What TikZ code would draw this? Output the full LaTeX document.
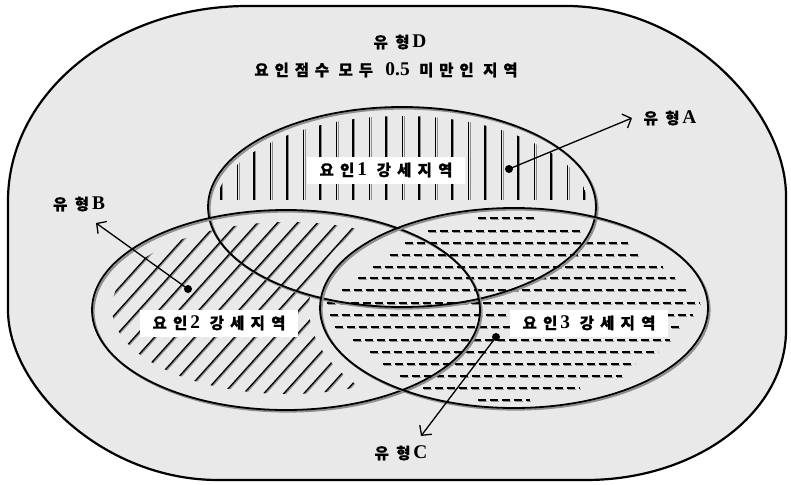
\documentclass[tikz,border=0pt]{standalone}
\usepackage{fontspec}
\setmainfont{Noto Sans CJK KR}
\newfontfamily\latfont{Liberation Serif}[Scale=1.25]
\newcommand\latn[1]{\kern3pt{\latfont\bfseries #1}}
\usetikzlibrary{arrows.meta}
\definecolor{paper}{HTML}{E9E9E9}
\definecolor{rimgray}{HTML}{8E8E8E}

\tikzset{
  tag/.style={font=\fontsize{15.5}{17}\selectfont\bfseries\addfontfeature{LetterSpace=48,FakeBold=0.8}, inner sep=1pt},
  note/.style={font=\fontsize{15.5}{17}\selectfont\bfseries\addfontfeature{LetterSpace=38,FakeBold=0.8}, inner sep=1pt},
  zonebox/.style={fill=white, minimum width=158pt, minimum height=27pt, inner sep=0pt,
    font=\fontsize{15.5}{17}\selectfont\bfseries\addfontfeature{LetterSpace=40,FakeBold=0.8}},
  dot/.style={circle, fill=black, minimum size=8pt, inner sep=0pt},
  pointer/.style={-{Straight Barb[length=7pt,width=15pt]}, line width=1.3pt},
  hatch/.style={line width=1.3pt},
  hatchshade/.style={line width=1.3pt, rimgray},
  dashline/.style={line width=1.3pt, dash pattern=on 8pt off 4pt},
  rim/.style={line width=1.8pt},
  rimshade/.style={line width=2pt, rimgray}
}

\begin{document}
\begin{tikzpicture}[x=1pt,y=-1pt]
\fill[white] (0,0) rectangle (791,484);
\useasboundingbox (0,0) rectangle (791,484);

% outer region (type D)
\draw[fill=paper, line width=2.2pt] (8,201) .. controls (8,93) and (115,6) .. (248,6) -- (566,6)
  .. controls (687,6) and (786,111) .. (786,196) -- (786,330)
  .. controls (786,413) and (696,480) .. (586,480) -- (218,480)
  .. controls (102,480) and (8,386) .. (8,310) -- cycle;

% factor 1: vertical lines
\begin{scope}
  \clip (402,207) ellipse [x radius=186pt, y radius=91pt];
  \clip (0,0) rectangle (791,200);
  \foreach \x in {221,237.5,...,585} {
    \draw[hatchshade] (\x+1.8,100) -- (\x+1.8,200);
    \draw[hatch] (\x,100) -- (\x,200);
  }
\end{scope}

% factor 2: slanted lines
\begin{scope}
  \clip (288,308) ellipse [x radius=176pt, y radius=86pt];
  \begin{scope}[even odd rule]
  \clip (0,0) rectangle (791,484) (514,308) ellipse [x radius=205pt, y radius=120pt];
  \foreach \c in {-120,-100,...,380} {
    \draw[hatchshade] (\c+1.8,420) -- (\c+226.8,170);
    \draw[hatch] (\c,420) -- (\c+225,170);
  }
  \end{scope}
\end{scope}

% factor 3: dashed rows
\foreach \y/\xa/\xb in {218/478/537, 231/428/583, 243/405/628, 255/390/640,
    267/373/663, 278/358/675, 290/342/687, 303/327/700, 315/330/693, 327/335/682,
    340/353/670, 352/370/658, 364/383/635, 376/400/622, 388/423/580, 400/478/530} {
  \draw[dashline, rimgray] (\xa+1.2,\y+1.4) -- (\xb+1.2,\y+1.4);
  \draw[dashline] (\xa,\y) -- (\xb,\y);
}

% the three circles
\foreach \cx/\cy in {402/207, 286/310, 514/308} {
  \draw[rimshade] (\cx+1.6,\cy+1.6) ellipse [x radius=194pt, y radius=100pt];
  \draw[rim] (\cx,\cy) ellipse [x radius=194pt, y radius=100pt];
}

\node[zonebox] (zone1) at (386,170) {요인\latn{1} 강세지역};
\node[zonebox] (zone2) at (219,323) {요인\latn{2} 강세지역};
\node[zonebox] (zone3) at (589,323) {요인\latn{3} 강세지역};

\node[tag] (typeD) at (400,42) {유형\latn{D}};
\node[note] (noteD) at (386,70) {요인점수 모두 \latn{0.5} 미만인 지역};
\node[tag] (typeA) at (670,118) {유형\latn{A}};
\node[tag] (typeB) at (79,204) {유형\latn{B}};
\node[tag] (typeC) at (401,453) {유형\latn{C}};

\node[dot] (ptA) at (509,169) {};
\node[dot] (ptB) at (188,289) {};
\node[dot] (ptC) at (496,337) {};
\coordinate (tipA) at (632,118);
\coordinate (tipB) at (96,223);
\coordinate (tipC) at (421,436);
\draw[pointer] (ptA.center) -- (tipA);
\draw[pointer] (ptB.center) -- (tipB);
\draw[pointer] (ptC.center) -- (tipC);
\end{tikzpicture}
\end{document}
